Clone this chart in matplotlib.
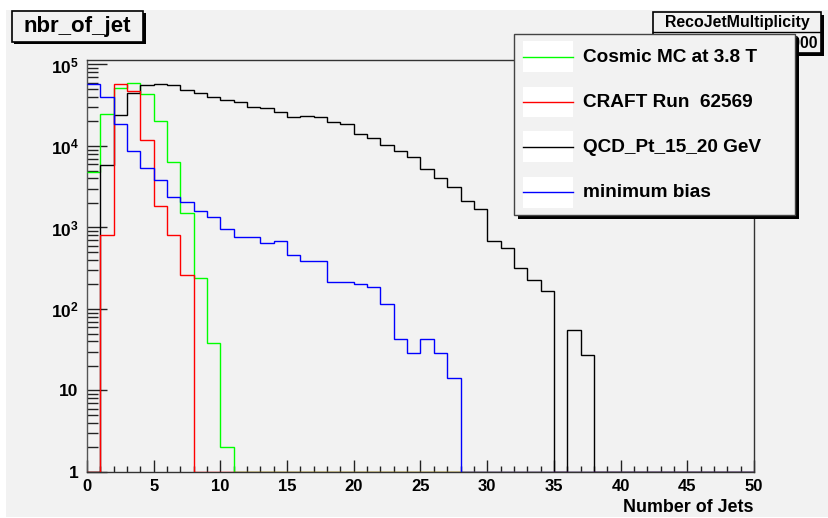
import numpy as np
import matplotlib
matplotlib.use("Agg")
import matplotlib.pyplot as plt
from matplotlib.patches import Rectangle
from matplotlib.lines import Line2D

plt.rcParams['font.family'] = ['Liberation Sans', 'DejaVu Sans']
plt.rcParams['mathtext.fontset'] = 'custom'
plt.rcParams['mathtext.rm'] = 'Liberation Sans:bold'
plt.rcParams['mathtext.it'] = 'Liberation Sans:bold'
plt.rcParams['mathtext.bf'] = 'Liberation Sans:bold'

# ---------------- data ----------------
bin_edges = np.arange(0, 51, 1)

cosmic_mc = [4800, 24700, 52000, 58800, 43100, 20400, 6410, 1490, 240, 38, 2] + [0] * 39
craft_run = [0, 809, 57000, 47700, 11850, 1860, 800, 259] + [0] * 42
qcd_pt = [0, 5850, 23800, 44300, 55600, 57600, 55600, 48600, 45100, 39600,
          36700, 34700, 29800, 29000, 26400, 22500, 23100, 22500, 19900, 18600,
          14000, 12400, 10400, 8770, 7330, 5180, 4050, 3150, 2110, 1690,
          686, 568, 316, 227, 168, 0, 56, 27] + [0] * 12
min_bias = [57000, 40000, 18500, 8700, 5370, 3800, 2390, 2070, 1580, 1350,
            966, 771, 771, 645, 689, 456, 392, 392, 216, 216,
            203, 186, 116, 43, 29, 43, 29, 14.4] + [0] * 22

series_names = ["Cosmic MC at 3.8 T", "CRAFT Run  62569", "QCD_Pt_15_20 GeV", "minimum bias"]
series_colors = ["#00ff00", "#ff0000", "#000000", "#0000ff"]

y_tick_values = [1, 10, 100, 1000, 10000, 100000]
y_tick_labels = ['1', '10', r'$10^{2}$', r'$10^{3}$', r'$10^{4}$', r'$10^{5}$']
x_tick_values = [0, 5, 10, 15, 20, 25, 30, 35, 40, 45, 50]

title_text = "nbr_of_jet"
stats_title = "RecoJetMultiplicity"
stats_line = "Entries   100000"
x_label = "Number of Jets"

# ---------------- figure ----------------
W, H = 829, 518
fig = plt.figure(figsize=(W / 100, H / 100), dpi=100, facecolor='white')

def fx(x):
    return x / W

def fy(y):
    return 1 - y / H

CANVAS = '#f2f2f2'
fig.patches.append(Rectangle((fx(6), fy(517)), fx(829) - fx(6), fy(10) - fy(517),
                             transform=fig.transFigure, facecolor=CANVAS,
                             edgecolor='none', zorder=-10))

ax = fig.add_axes([fx(87), fy(472), fx(754) - fx(87), fy(60) - fy(472)])
ax.set_zorder(1)
ax.set_facecolor(CANVAS)
ax.set_yscale('log')
ax.set_xlim(0, 50)
ax.set_ylim(1, 10 ** 5.055)

ymin = 1
data_series = [cosmic_mc, qcd_pt, craft_run, min_bias]
order_colors = [series_colors[0], series_colors[2], series_colors[1], series_colors[3]]
for vals, col in zip(data_series, order_colors):
    v = np.clip(np.asarray(vals, dtype=float), ymin, None)
    ax.stairs(v, bin_edges, baseline=None, color=col, lw=1.0, zorder=3)

for s in ax.spines.values():
    s.set_color('#333333')
    s.set_linewidth(1.0)
ax.spines['left'].set_color('#555555')

ax.yaxis.set_major_locator(matplotlib.ticker.FixedLocator(y_tick_values))
ax.yaxis.set_major_formatter(matplotlib.ticker.FixedFormatter(y_tick_labels))
ax.yaxis.set_minor_locator(matplotlib.ticker.LogLocator(base=10, subs=np.arange(2, 10)))
ax.yaxis.set_minor_formatter(matplotlib.ticker.NullFormatter())
ax.set_xticks(x_tick_values)
ax.set_xticks(np.arange(0, 51, 1), minor=True)

ax.tick_params(axis='y', which='major', direction='in', length=14.5, width=1.0,
               color='#222222', pad=6, labelsize=12.5, right=False)
ax.tick_params(axis='y', which='minor', direction='in', length=8, width=1.0,
               color='#222222', right=False)
ax.tick_params(axis='x', which='major', direction='in', length=8.6, width=1.0,
               color='#222222', pad=5, labelsize=12, top=False)
ax.tick_params(axis='x', which='minor', direction='in', length=4.2, width=1.0,
               color='#222222', top=False)
for lab in ax.get_xticklabels() + ax.get_yticklabels():
    lab.set_fontweight('bold')

fig.text(fx(754), fy(507), x_label, ha='right', va='center', fontsize=12.9,
         fontweight='bold')

# ---------------- boxes ----------------
def box(x0, y0, x1, y1, shadow=3, lw=1.2, ec='black', fc=CANVAS, z=10):
    fig.patches.append(Rectangle((fx(x0 + shadow), fy(y1 + shadow)),
                                 fx(x1) - fx(x0), fy(y0) - fy(y1),
                                 transform=fig.transFigure, facecolor='black',
                                 edgecolor='none', zorder=z))
    fig.patches.append(Rectangle((fx(x0), fy(y1)), fx(x1) - fx(x0), fy(y0) - fy(y1),
                                 transform=fig.transFigure, facecolor=fc,
                                 edgecolor=ec, lw=lw, zorder=z + 0.5))

box(12, 11, 143, 41.5, shadow=2.5)
fig.text(fx(77.5), fy(26.5), title_text, ha='center', va='center', fontsize=16,
         fontweight='bold', zorder=12)

# ---------------- stats box ----------------
box(653, 11.5, 821, 53, shadow=3, z=14)
fig.lines.append(Line2D([fx(653), fx(821)], [fy(32.3), fy(32.3)],
                        transform=fig.transFigure, color='black', lw=1.0, zorder=15))
fig.text(fx(737), fy(22), stats_title, ha='center', va='center', fontsize=11.4,
         fontweight='bold', zorder=16)
fig.text(fx(818), fy(43), stats_line, ha='right', va='center', fontsize=11.4,
         fontweight='bold', zorder=16)

# ---------------- legend ----------------
box(514, 34, 795, 215, shadow=4, lw=1.0, ec='#444444', z=20)
entry_centers = [56.7, 102, 146.7, 192.3]
for name, col, yc in zip(series_names, series_colors, entry_centers):
    fig.patches.append(Rectangle((fx(522.7), fy(yc + 15.3)), fx(572.7) - fx(522.7),
                                 fy(yc - 15.3) - fy(yc + 15.3),
                                 transform=fig.transFigure, facecolor='white',
                                 edgecolor='none', zorder=22))
    fig.lines.append(Line2D([fx(522.7), fx(572.7)], [fy(yc), fy(yc)],
                            transform=fig.transFigure, color=col, lw=1.0, zorder=23))
    fig.text(fx(583.5), fy(yc + 0.5), name, ha='left', va='center', fontsize=13.7,
             fontweight='bold', zorder=23)

fig.savefig("out.png", dpi=100, facecolor='white')
